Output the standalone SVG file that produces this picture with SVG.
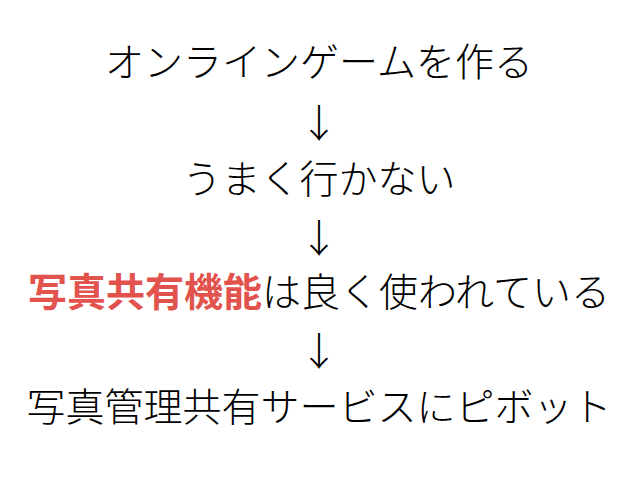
<svg xmlns="http://www.w3.org/2000/svg" width="638" height="479" viewBox="0 0 638 479">
<style>
.t{font-family:"Noto Sans CJK JP","Noto Sans CJK SC",sans-serif;font-size:39px;fill:#000;text-anchor:middle;font-weight:300}
.r{fill:#E2534E;font-weight:700}
</style>
<rect width="638" height="479" fill="#fff"/>
<g id="n1"><text class="t" x="319" y="76">オンラインゲームを作る</text></g>
<g id="n2"><text class="t" x="319" y="193">うまく行かない</text></g>
<g id="n3"><text class="t" x="319" y="306"><tspan class="r">写真共有機能</tspan>は良く使われている</text></g>
<g id="n4"><text class="t" x="319" y="421">写真管理共有サービスにピボット</text></g>
<g id="connectors">
<text class="t" x="319" y="137">↓</text>
<text class="t" x="319" y="252">↓</text>
<text class="t" x="319" y="365">↓</text>
</g>
</svg>
